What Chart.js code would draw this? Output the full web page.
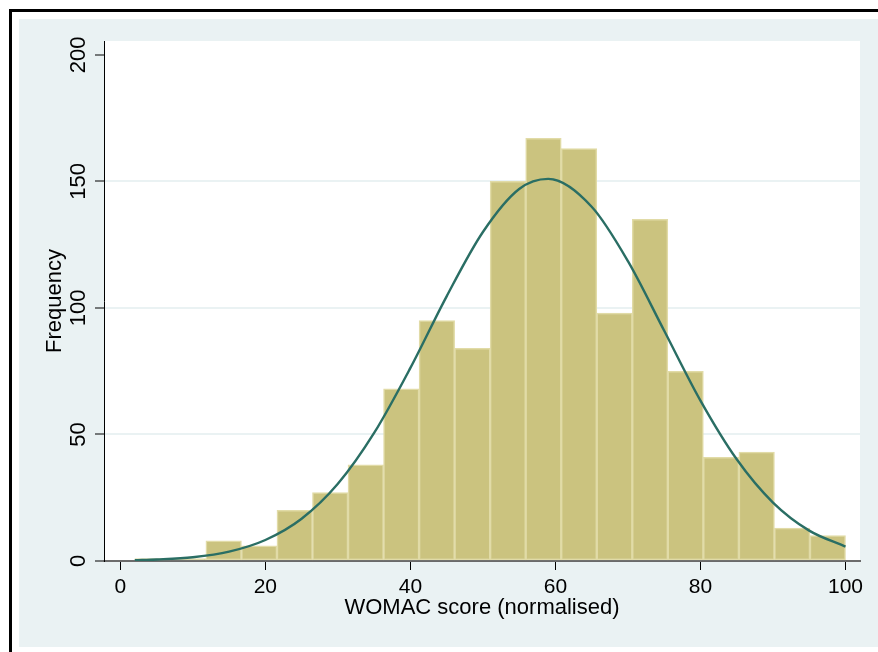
<!DOCTYPE html>
<html>
<head>
<meta charset="utf-8">
<title>WOMAC score histogram</title>
<script src="https://cdn.jsdelivr.net/npm/chart.js@4.4.1/dist/chart.umd.min.js"></script>
<style>
  html, body { margin: 0; padding: 0; background: #fff; }
  canvas { display: block; }
</style>
</head>
<body>
<canvas id="histo" width="878" height="652"></canvas>
<script>
// histogram bins (centre of each bin, width 4.9)
var binCenters = [4.45, 9.35, 14.25, 19.15, 24.05, 28.95, 33.85, 38.75, 43.65, 48.55,
                  53.45, 58.35, 63.25, 68.15, 73.05, 77.95, 82.85, 87.75, 92.65, 97.55];
var binCounts = [1, 1, 8, 6, 20, 27, 38, 68, 95, 84,
                 150, 167, 163, 98, 135, 75, 41, 43, 13, 10];

// normal curve
var curveX = [2, 5, 10, 15, 20, 25, 30, 35, 40, 45, 50, 55, 59, 65, 70, 75, 80, 85, 90, 95, 100];
var curveY = [0.3, 0.6, 1.5, 3.7, 8.3, 16.7, 30.5, 50.6, 76.3, 104.6, 130, 147, 151,
              140, 118.5, 91, 63.4, 40.2, 23.1, 12, 5.7];

var xTicks = [0, 20, 40, 60, 80, 100];
var yTicks = [0, 50, 100, 150, 200];

var FONT = "'Liberation Sans', Arial, Helvetica, sans-serif";
var BG = '#eaf2f3';

var backdrop = {
    id: 'backdrop',
    beforeDraw: function (chart) {
        var ctx = chart.ctx;
        var a = chart.chartArea;
        ctx.save();
        ctx.fillStyle = '#ffffff';
        ctx.fillRect(0, 0, chart.width, chart.height);
        // black frame on top and left
        ctx.fillStyle = '#000000';
        ctx.fillRect(9, 9, chart.width - 9, 3);
        ctx.fillRect(9, 9, 3, chart.height - 9);
        // graph region
        ctx.fillStyle = BG;
        ctx.fillRect(19, 19, chart.width - 19, 628);
        // plot region
        ctx.fillStyle = '#ffffff';
        ctx.fillRect(a.left, a.top, a.right - a.left, a.bottom - a.top);
        ctx.restore();
    }
};

function initHisto() {
    var canvas = document.getElementById('histo');
    var ctx = canvas.getContext('2d');

    var barData = binCenters.map(function (x, i) { return { x: x, y: binCounts[i] }; });
    var lineData = curveX.map(function (x, i) { return { x: x, y: curveY[i] }; });

    new Chart(ctx, {
        type: 'bar',
        data: {
            datasets: [{
                type: 'line',
                data: lineData,
                borderColor: '#2a6e64',
                borderWidth: 2.4,
                pointRadius: 0,
                fill: false,
                cubicInterpolationMode: 'monotone',
                order: 0
            }, {
                type: 'bar',
                data: barData,
                backgroundColor: '#cbc37f',
                borderColor: '#e1dba7',
                borderWidth: 1.5,
                borderSkipped: false,
                barPercentage: 1,
                categoryPercentage: 1,
                order: 1
            }]
        },
        options: {
            responsive: false,
            devicePixelRatio: 1,
            animation: false,
            layout: { padding: { left: 0, right: 18, top: 41, bottom: 0 } },
            plugins: {
                legend: { display: false },
                tooltip: { enabled: false }
            },
            scales: {
                x: {
                    type: 'linear',
                    min: -2.25,
                    max: 102,
                    offset: false,
                    afterBuildTicks: function (s) {
                        s.ticks = xTicks.map(function (v) { return { value: v }; });
                    },
                    afterFit: function (s) { s.height = 91; },
                    grid: {
                        offset: false,
                        drawOnChartArea: false,
                        drawTicks: true,
                        tickLength: 9,
                        tickColor: '#000',
                        tickWidth: 1
                    },
                    border: { color: '#6b6b6b', width: 2 },
                    ticks: {
                        color: '#000',
                        padding: 5,
                        maxRotation: 0,
                        font: { family: FONT, size: 21 }
                    },
                    title: {
                        display: true,
                        text: 'WOMAC score (normalised)',
                        color: '#000',
                        font: { family: FONT, size: 22 },
                        padding: { top: 0, bottom: 31 }
                    }
                },
                y: {
                    min: 0,
                    max: 205.5,
                    afterBuildTicks: function (s) {
                        s.ticks = yTicks.map(function (v) { return { value: v }; });
                    },
                    afterFit: function (s) { s.width = 104; },
                    grid: {
                        color: function (c) {
                            var v = c.tick ? c.tick.value : 0;
                            return (v === 0 || v === 200) ? 'rgba(0,0,0,0)' : BG;
                        },
                        lineWidth: 2,
                        drawTicks: true,
                        tickLength: 9,
                        tickColor: '#000',
                        tickWidth: 1
                    },
                    border: { color: '#000', width: 1 },
                    ticks: {
                        color: '#000',
                        padding: -2,
                        minRotation: 90,
                        maxRotation: 90,
                        crossAlign: 'center',
                        font: { family: FONT, size: 22 }
                    },
                    title: {
                        display: true,
                        text: 'Frequency',
                        color: '#000',
                        font: { family: FONT, size: 22 },
                        padding: { top: 42, bottom: 0 }
                    }
                }
            }
        },
        plugins: [backdrop]
    });
}

document.addEventListener('DOMContentLoaded', initHisto);
</script>
</body>
</html>
